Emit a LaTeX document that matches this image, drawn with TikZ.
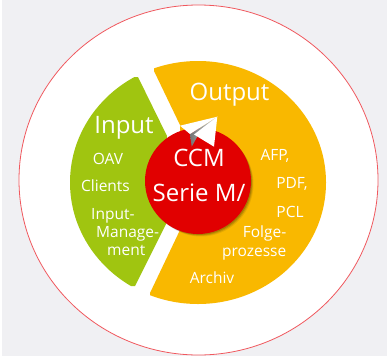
\documentclass[tikz,border=0pt]{standalone}
\usepackage{fontspec}
\setmainfont{Open Sans}
\definecolor{pagebg}{HTML}{F0F0F3}
\definecolor{ringred}{HTML}{F0585E}
\definecolor{leafgreen}{HTML}{A0C510}
\definecolor{amber}{HTML}{F9B800}
\definecolor{corered}{HTML}{E10000}
\tikzset{
  big/.style={text=white,font=\fontsize{24}{24}\selectfont,inner sep=0pt},
  small/.style={text=white,font=\fontsize{15.5}{18.3}\selectfont,inner sep=0pt},
}
\begin{document}
\begin{tikzpicture}[x=1pt,y=-1pt]
\useasboundingbox (0,0) rectangle (387,356);
\fill[white] (0,0) rectangle (387,356);
\fill[pagebg] (2,0) rectangle (387,356);
\fill[white,draw=ringred,line width=0.8pt] (198.5,180) ellipse [x radius=179.5,y radius=175];
% green segment
\begin{scope}
\clip (138,77) -- (167,136) -- (166,224) -- (135,286) -- (40,286) -- (40,77) -- cycle;
\fill[leafgreen] (198,182.5) ellipse [x radius=128,y radius=121.5];
\end{scope}
% orange segment
\begin{scope}
\clip (154,71) -- (180,125) -- (180,230) -- (150,293) -- (150,320) -- (340,320) -- (340,40) -- (154,40) -- cycle;
\fill[amber] (198,182.5) ellipse [x radius=128,y radius=121.5];
\end{scope}
% soft shadow of the core, to the lower right only
\foreach \d/\o in {3/0.08,2.2/0.12,1.4/0.16}{
  \fill[black,opacity=\o] (198+\d,181+\d) circle [radius=52.5];
}
\fill[corered] (198,181) circle [radius=53];
% paper plane
\shade[left color=gray!90!black,right color=gray!25] (190,134) -- (217.3,116.7) -- (200,131.7) -- (191.7,146.7) -- cycle;
\fill[white] (180,125.7) -- (217.3,116.7) -- (190,134) -- cycle;
\fill[white] (217.3,116.7) -- (214,146.7) -- (194,134.5) -- cycle;
\node[big] (output) at (229.5,95) {Output};
\node[big] (input) at (124,128) {Input};
\node[big] (ccm) at (199,158) {CCM};
\node[big] (serie) at (199,193) {Serie M/};
\node[small] (oav) at (108,159) {OAV};
\node[small] (clients) at (105.5,186) {Clients};
\node[small,anchor=north west,align=left] (inputm) at (91,208) {Input-\\\hspace*{5pt}Manage-\\\hspace*{16pt}ment};
\node[small] (afp) at (275,156) {AFP,};
\node[small] (pdf) at (292,184) {PDF,};
\node[small] (pcl) at (290,212) {PCL};
\node[small,anchor=north east,align=right] (folge) at (286.5,226) {Folge-\\prozesse};
\node[small] (archiv) at (212,278) {Archiv};
\end{tikzpicture}
\end{document}
